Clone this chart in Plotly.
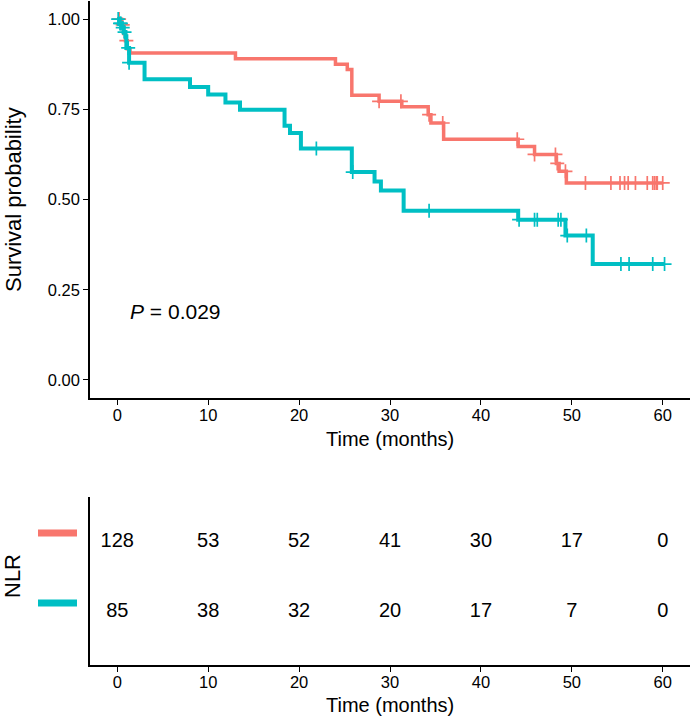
import plotly.graph_objects as go

# ---- data ----
red_t = [0, 0.4, 0.7, 0.9, 1.1, 1.4, 13.0, 24.0, 25.3, 25.8, 28.8, 31.3, 34.2, 34.5, 35.9, 44.1, 45.9, 48.3, 48.6, 49.4]
red_s = [1.0, 0.984, 0.96, 0.94, 0.918, 0.906, 0.890, 0.875, 0.860, 0.789, 0.772, 0.757, 0.735, 0.712, 0.667, 0.647, 0.625, 0.600, 0.578, 0.546]
red_cens = [0.2, 0.6, 1.0, 28.8, 31.2, 34.3, 35.8, 44.0, 45.9, 48.2, 48.4, 49.3, 51.5, 54.3, 55.3, 55.8, 56.2, 57.0, 58.3, 58.9, 59.1, 59.3, 59.4, 60.0]

teal_t = [0, 0.2, 0.5, 0.7, 0.9, 1.0, 1.3, 3.0, 8.0, 10.0, 11.9, 13.5, 18.4, 19.0, 20.2, 25.8, 28.3, 29.0, 31.5, 44.1, 49.3, 52.3]
teal_s = [1.0, 0.988, 0.976, 0.964, 0.952, 0.92, 0.879, 0.833, 0.812, 0.791, 0.769, 0.749, 0.704, 0.684, 0.641, 0.576, 0.550, 0.525, 0.469, 0.444, 0.400, 0.321]
teal_cens = [0.1, 0.3, 0.4, 0.6, 0.8, 1.2, 1.3, 21.9, 25.9, 34.3, 44.2, 45.9, 46.2, 48.5, 48.8, 49.5, 51.6, 55.4, 56.3, 58.9, 60.2]

risk_times = [0, 10, 20, 30, 40, 50, 60]
risk_red = [128, 53, 52, 41, 30, 17, 0]
risk_teal = [85, 38, 32, 20, 17, 7, 0]

y_ticks = [0.0, 0.25, 0.5, 0.75, 1.0]
y_ticklabels = ["0.00", "0.25", "0.50", "0.75", "1.00"]
x_ticks = [0, 10, 20, 30, 40, 50, 60]
p_text = "<i>P</i> = 0.029"

RED = "#F8766D"
TEAL = "#00BFC4"
W, H = 692, 718
FAM = "Liberation Sans, Arial"


def surv_at(times, survs, t):
    s = survs[0]
    for tt, ss in zip(times, survs):
        if tt <= t:
            s = ss
    return s


fig = go.Figure()

for times, survs, cens, col, lw in [
    (red_t, red_s, red_cens, RED, 3.5),
    (teal_t, teal_s, teal_cens, TEAL, 4),
]:
    xs = list(times) + [max(cens)]
    ys = list(survs) + [survs[-1]]
    fig.add_trace(go.Scatter(x=xs, y=ys, mode="lines", line=dict(color=col, width=lw, shape="hv"),
                             xaxis="x", yaxis="y", showlegend=False, hoverinfo="skip"))
    fig.add_trace(go.Scatter(x=cens, y=[surv_at(times, survs, c) for c in cens], mode="markers",
                             marker=dict(symbol="cross-thin", size=10, line=dict(color=col, width=1.7)),
                             xaxis="x", yaxis="y", showlegend=False, hoverinfo="skip"))

font_tick = dict(family=FAM, size=16.5, color="black")

# risk table numbers
for vals, yv in [(risk_red, 2), (risk_teal, 1)]:
    fig.add_trace(go.Scatter(x=risk_times, y=[yv] * len(risk_times), mode="text",
                             text=[str(v) for v in vals], textfont=dict(family=FAM, size=20, color="black"),
                             xaxis="x2", yaxis="y2", showlegend=False, hoverinfo="skip"))

x_dom = [90 / W, 690 / W]
top_dom = [(H - 398) / H, (H - 1) / H]
bot_dom = [(H - 665) / H, (H - 497) / H]

axis_common = dict(showgrid=False, zeroline=False, showline=True, linecolor="black", linewidth=1.7,
                   ticks="outside", ticklen=5, tickwidth=1.4, tickcolor="black", tickfont=font_tick)

fig.update_layout(
    width=W, height=H, margin=dict(l=0, r=0, t=0, b=0),
    paper_bgcolor="white", plot_bgcolor="white",
    xaxis=dict(domain=x_dom, range=[-3, 63], tickvals=x_ticks, anchor="y", ticklabelstandoff=-4, **axis_common),
    yaxis=dict(domain=top_dom, range=[-0.05, 1.05], tickvals=y_ticks, ticktext=y_ticklabels, anchor="x", **axis_common),
    xaxis2=dict(domain=x_dom, range=[-3, 63], tickvals=x_ticks, anchor="y2", ticklabelstandoff=-4, **axis_common),
    yaxis2=dict(domain=bot_dom, range=[0.243, 2.643], showgrid=False, zeroline=False, showline=True,
                linecolor="black", linewidth=1.7, showticklabels=False, ticks="", anchor="x2"),
)

# legend-like colour bars beside the risk table rows
for yv, col in [(2, RED), (1, TEAL)]:
    fig.add_shape(type="line", xref="paper", yref="y2", x0=38 / W, x1=77 / W, y0=yv + 0.13, y1=yv + 0.13,
                  line=dict(color=col, width=7))

fig.add_annotation(text=p_text, x=1.2, y=0.19, xref="x", yref="y", xanchor="left", yanchor="middle",
                   showarrow=False, font=dict(family=FAM, size=21, color="black"))
title_font = dict(family=FAM, size=20, color="black")
vtitle_font = dict(family=FAM, size=22, color="black")
for txt, px, py, ang, fnt in [
    ("Time (months)", 390, 439, 0, title_font),
    ("Time (months)", 390, 705, 0, title_font),
    ("Survival probability", 13, 200, -90, vtitle_font),
    ("NLR", 12, 576, -90, vtitle_font),
]:
    fig.add_annotation(text=txt, x=px / W, y=(H - py) / H, xref="paper", yref="paper",
                       xanchor="center", yanchor="middle", textangle=ang, showarrow=False, font=fnt)

fig.write_html("out.html", config={"displayModeBar": False},
               post_script="document.body.style.margin='0';document.body.style.overflow='hidden';")
